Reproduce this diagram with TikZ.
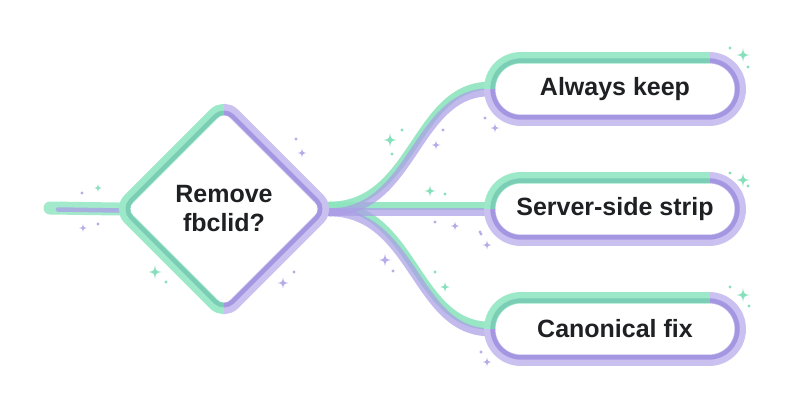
\documentclass[tikz,border=0pt]{standalone}
\usepackage{fontspec}
\setmainfont{Liberation Sans}
\usetikzlibrary{shapes.geometric,calc}
\pgfdeclarelayer{bg}\pgfdeclarelayer{mid}\pgfsetlayers{bg,mid,main}
\definecolor{gL}{HTML}{9BE9C8}
\definecolor{gD}{HTML}{7BCDB6}
\definecolor{pL}{HTML}{CAC1F1}
\definecolor{pD}{HTML}{A596E2}
\definecolor{gS}{HTML}{8DE4BE}
\definecolor{pS}{HTML}{AB9EE6}
\definecolor{gK}{HTML}{86E0BC}
\definecolor{pK}{HTML}{B7ABE8}
\definecolor{ink}{HTML}{1F2023}
\tikzset{
 lbl/.style={font=\fontsize{25}{29}\selectfont\bfseries, text=ink, align=center},
 pill/.style={lbl, minimum width=250pt, minimum height=62pt, inner sep=0pt},
 deci/.style={lbl, shape=diamond, minimum width=210pt, minimum height=210pt, inner sep=0pt},
 outerS/.style={line width=11.5pt, line join=round},
 innerS/.style={line width=4.5pt, line join=round},
 gstrand/.style={draw=gS, line width=8pt, opacity=.9, line cap=round, transform canvas={yshift=3.3pt}},
 pstrand/.style={draw=pS, line width=8pt, opacity=.72, line cap=round, transform canvas={yshift=-3.3pt}},
}
\newcommand\dmd[1]{($(d.north)!.5!(d.east)+(-0.707*#1,0.707*#1)$) -- ($(d.east)+(-1.414*#1,0)$) -- ($(d.south)+(0,-1.414*#1)$) -- ($(d.west)+(1.414*#1,0)$) -- ($(d.north)+(0,1.414*#1)$) -- cycle}
\newcommand\pll[2]{([shift={(#2,#2)}]#1.north west) rectangle ([shift={(-#2,-#2)}]#1.south east)}
\newcommand\spk[4]{\fill[#4] (#1,#2-#3) .. controls (#1+0.16*#3,#2-0.16*#3) .. (#1+#3,#2) .. controls (#1+0.16*#3,#2+0.16*#3) .. (#1,#2+#3) .. controls (#1-0.16*#3,#2+0.16*#3) .. (#1-#3,#2) .. controls (#1-0.16*#3,#2-0.16*#3) .. (#1,#2-#3) -- cycle;}
\begin{document}
\begin{tikzpicture}[x=1pt,y=-1pt]
\path[use as bounding box] (0,0) rectangle (800,420);
\node[deci] (d) at (224,209) {Remove\\fbclid?};
\node[pill] (p1) at (615,89) {Always keep};
\node[pill] (p2) at (615,209) {Server-side strip};
\node[pill] (p3) at (615,329) {Canonical fix};
\coordinate (in) at (50,208);
\begin{pgfonlayer}{bg}
 \fill[white] (0,0) rectangle (800,420);
 \foreach \x/\y/\s/\c in {98/188/4/gK, 155/272/6.5/gK, 390/140/6.5/gK, 512/80/4.5/gK, 743/55/6.5/gK, 430/191/5.5/gK, 445/287/5/gK, 512/318/4.5/gK, 743/180/6.5/gK, 743/295/6.5/gK,
   83/228/4/pK, 242/142/6.5/pK, 302/153/4.5/pK, 283/283/5.5/pK, 436/145/4.5/pK, 495/128/4.5/pK, 455/226/4.5/pK, 487/245/4.5/pK, 385/260/6/pK, 487/362/4.5/pK}
   {\spk{\x}{\y}{\s}{\c}}
 \foreach \x/\y/\c in {166/282/gK, 205/265/gK, 209/275/gK, 402/130/gK, 392/154/gK, 445/194/gK, 435/272/gK, 520/72/gK, 730/48/gK, 748/67/gK, 521/190/gK, 730/173/gK, 748/186/gK, 521/310/gK, 730/287/gK, 749/306/gK, 702/340/gK,
   82/193/pK, 98/224/pK, 229/152/pK, 248/157/pK, 296/139/pK, 294/272/pK, 443/130/pK, 485/118/pK, 435/222/pK, 481/234/pK, 393/271/pK, 480/232/pK, 481/352/pK}
   {\fill[\c] (\x,\y) circle (1.7pt);}
 \draw[draw=gS, line width=13pt, line cap=round, opacity=.8] (in) -- (d.west);
 \draw[draw=pS, line width=4.5pt, line cap=round, opacity=.75, transform canvas={yshift=-1.5pt}] ([xshift=8pt]in) -- (d.west);
 \foreach \s in {gstrand,pstrand}{
  \draw[\s] (d.east) .. controls +(85,0) and +(-75,0) .. (p1.west);
  \draw[\s] (d.east) -- (p2.west);
  \draw[\s] (d.east) .. controls +(85,0) and +(-75,0) .. (p3.west);
 }
\end{pgfonlayer}
\begin{pgfonlayer}{mid}
 \fill[white, rounded corners=14pt] \dmd{0};
 \begin{scope}
  \clip (0,0) rectangle ($(d.south)+(0,30)$);
  \draw[outerS, gL, rounded corners=14pt] \dmd{0};
  \draw[innerS, gD, rounded corners=12pt] \dmd{2.8};
 \end{scope}
 \begin{scope}
  \clip ($(d.north)+(0,-30)$) rectangle (800,420);
  \draw[outerS, pL, rounded corners=14pt] \dmd{0};
  \draw[innerS, pD, rounded corners=12pt] \dmd{2.8};
 \end{scope}
 \foreach \p in {p1,p2,p3}{
  \fill[white, rounded corners=30.9pt] \pll{\p}{0};
  \begin{scope}
   \clip ($(\p.west)+(-20,0)$) rectangle ($(\p.north)+(95,-20)$);
   \draw[outerS, gL, rounded corners=30.9pt] \pll{\p}{0};
   \draw[innerS, gD, rounded corners=28.1pt] \pll{\p}{2.8};
  \end{scope}
  \begin{scope}
   \clip ($(\p.west)+(-20,0)$) rectangle ($(\p.south east)+(20,20)$) ($(\p.north)+(95,-20)$) rectangle ($(\p.east)+(20,0)$);
   \draw[outerS, pL, rounded corners=30.9pt] \pll{\p}{0};
   \draw[innerS, pD, rounded corners=28.1pt] \pll{\p}{2.8};
  \end{scope}
 }
\end{pgfonlayer}
\end{tikzpicture}
\end{document}
